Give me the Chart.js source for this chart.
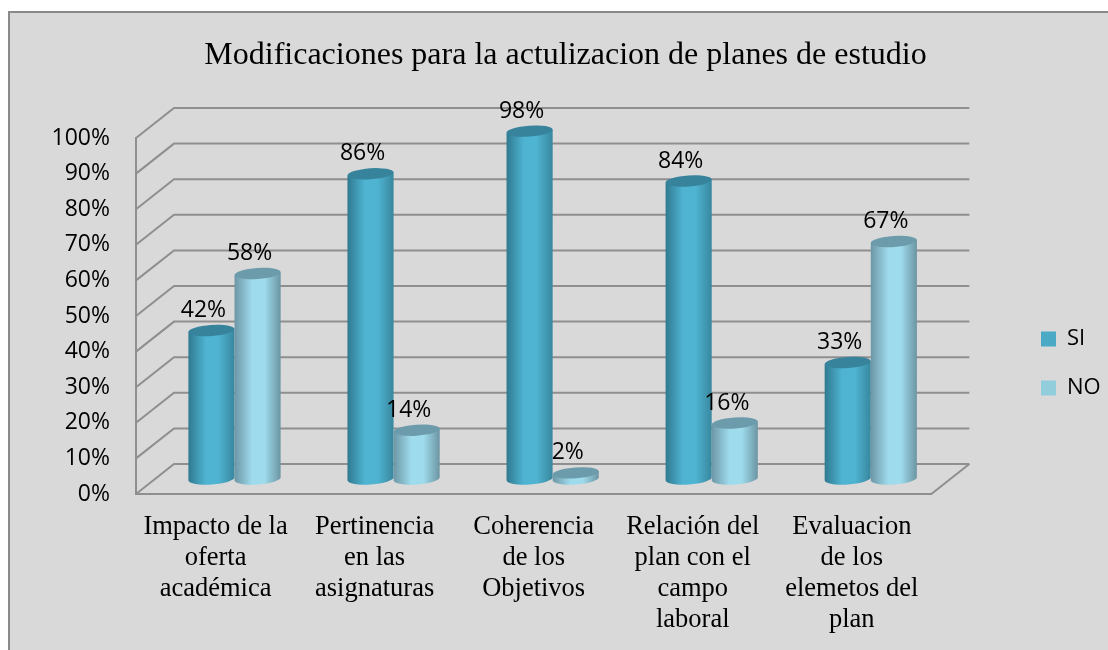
<!DOCTYPE html>
<html>
<head>
<meta charset="utf-8">
<title>Modificaciones</title>
<script src="https://cdn.jsdelivr.net/npm/chart.js@4/dist/chart.umd.min.js"></script>
<style>
  html, body { margin: 0; padding: 0; background: #fff; }
  canvas { display: block; }
</style>
</head>
<body>
<canvas id="myChart" width="1108" height="650"></canvas>
<script>
var categories = [
	['Impacto de la', 'oferta', 'académica'],
	['Pertinencia', 'en las', 'asignaturas'],
	['Coherencia', 'de los', 'Objetivos'],
	['Relación del', 'plan con el', 'campo', 'laboral'],
	['Evaluacion', 'de los', 'elemetos del', 'plan']
];
var si = [42, 86, 98, 84, 33];
var no = [58, 14, 2, 16, 67];

var titleText = 'Modificaciones para la actulizacion de planes de estudio';
var serif = '"Liberation Serif", serif';
var sans = '"Open Sans", sans-serif';
var lineColor = '#8f8f8f';

// how far the back wall sits from the front axes
var depthX = 38, depthY = 30;

var shades = [
	{ left: '#2f7a90', mid: '#4fb4d2', right: '#38879e', top: '#37839b' },
	{ left: '#6d96a5', mid: '#9edbec', right: '#6c95a3', top: '#6c9bac' }
];

function drawCylinder(ctx, bar, shade) {
	var r = bar.width / 2;
	var cx = bar.x + depthX / 2;
	var topY = bar.y - depthY / 2 + 1;
	var baseY = bar.base - depthY / 2;
	var ry = 5.5, tilt = -0.07;
	var dy = Math.sin(tilt) * r;

	var g = ctx.createLinearGradient(cx - r, 0, cx + r, 0);
	g.addColorStop(0, shade.left);
	g.addColorStop(0.38, shade.mid);
	g.addColorStop(0.65, shade.mid);
	g.addColorStop(1, shade.right);

	ctx.beginPath();
	ctx.moveTo(cx - r, topY - dy);
	ctx.lineTo(cx - r, baseY - dy);
	ctx.ellipse(cx, baseY, r, ry, tilt, Math.PI, 0, true);
	ctx.lineTo(cx + r, topY + dy);
	ctx.closePath();
	ctx.fillStyle = g;
	ctx.fill();

	ctx.beginPath();
	ctx.ellipse(cx, topY, r, ry, tilt, 0, Math.PI * 2);
	ctx.fillStyle = shade.top;
	ctx.fill();
}

var box3d = {
	id: 'box3d',
	beforeDraw: function(chart) {
		var ctx = chart.ctx;
		ctx.save();
		ctx.fillStyle = '#d9d9d9';
		ctx.fillRect(8, 12, 1100, 638);
		ctx.strokeStyle = '#8a8a8a';
		ctx.lineWidth = 2;
		ctx.beginPath();
		ctx.moveTo(9, 650);
		ctx.lineTo(9, 12);
		ctx.lineTo(1108, 12);
		ctx.stroke();
		ctx.restore();
	},
	afterLayout: function(chart) {
		// legend and title do not sit where the layout would put them
		var l = chart.legend;
		l.left = 1014; l.right = 1108; l.top = 301; l.bottom = 650;
		chart.titleBlock.left = 0;
		chart.titleBlock.right = 1131;
	},
	beforeDatasetsDraw: function(chart) {
		var ctx = chart.ctx, a = chart.chartArea, y = chart.scales.y;
		ctx.save();
		ctx.strokeStyle = lineColor;
		ctx.lineWidth = 2;
		y.ticks.forEach(function(t, i) {
			var py = y.getPixelForTick(i);
			ctx.beginPath();
			ctx.moveTo(a.left, py);
			ctx.lineTo(a.left + depthX, py - depthY);
			ctx.lineTo(a.right + depthX, py - depthY);
			ctx.stroke();
		});
		ctx.beginPath();
		ctx.moveTo(a.right, a.bottom);
		ctx.lineTo(a.right + depthX, a.bottom - depthY);
		ctx.stroke();
		ctx.restore();
	},
	beforeDatasetDraw: function() {
		return false;
	},
	afterDatasetsDraw: function(chart) {
		var ctx = chart.ctx;
		ctx.save();
		chart.data.datasets.forEach(function(ds, i) {
			chart.getDatasetMeta(i).data.forEach(function(bar) {
				drawCylinder(ctx, bar, shades[i]);
			});
		});
		ctx.font = '23px ' + sans;
		ctx.fillStyle = '#000';
		ctx.textAlign = 'center';
		ctx.textBaseline = 'middle';
		chart.data.datasets.forEach(function(ds, i) {
			chart.getDatasetMeta(i).data.forEach(function(bar, j) {
				ctx.fillText(ds.data[j] + '%', bar.x + depthX / 2 - 8, bar.y - depthY / 2 - 19);
			});
		});
		ctx.restore();
	}
};

var myChart = new Chart(document.getElementById('myChart'), {
	type: 'bar',
	data: {
		labels: categories,
		datasets: [
			{ label: 'SI', data: si, backgroundColor: '#4aa9c4', categoryPercentage: 0.58, barPercentage: 1 },
			{ label: 'NO', data: no, backgroundColor: '#92cddc', categoryPercentage: 0.58, barPercentage: 1 }
		]
	},
	options: {
		responsive: false,
		animation: false,
		layout: { padding: { left: 0, right: 80, top: 0, bottom: 0 } },
		plugins: {
			tooltip: { enabled: false },
			title: {
				display: true,
				text: titleText,
				color: '#000',
				font: { family: serif, size: 32, weight: 'normal', lineHeight: 1.2 },
				padding: { top: 36, bottom: 63.6 }
			},
			legend: {
				position: 'right',
				align: 'start',
				labels: {
					boxWidth: 15,
					boxHeight: 15,
					padding: 27,
					color: '#000',
					font: { family: sans, size: 22, lineHeight: 1.2 }
				}
			}
		},
		scales: {
			x: {
				afterFit: function(s) { s.height = 156; },
				grid: { display: false, drawTicks: false },
				border: { color: lineColor, width: 2 },
				ticks: {
					color: '#000',
					padding: 18,
					maxRotation: 0,
					minRotation: 0,
					autoSkip: false,
					font: { family: serif, size: 26.5, lineHeight: 1.17 }
				}
			},
			y: {
				min: 0,
				max: 100,
				afterFit: function(s) { s.width = 136; },
				grid: { display: false, drawTicks: false },
				border: { color: lineColor, width: 2 },
				ticks: {
					color: '#000',
					stepSize: 10,
					padding: 26,
					font: { family: sans, size: 23 },
					callback: function(v) { return v + '%'; }
				}
			}
		}
	},
	plugins: [box3d]
});
</script>
</body>
</html>
